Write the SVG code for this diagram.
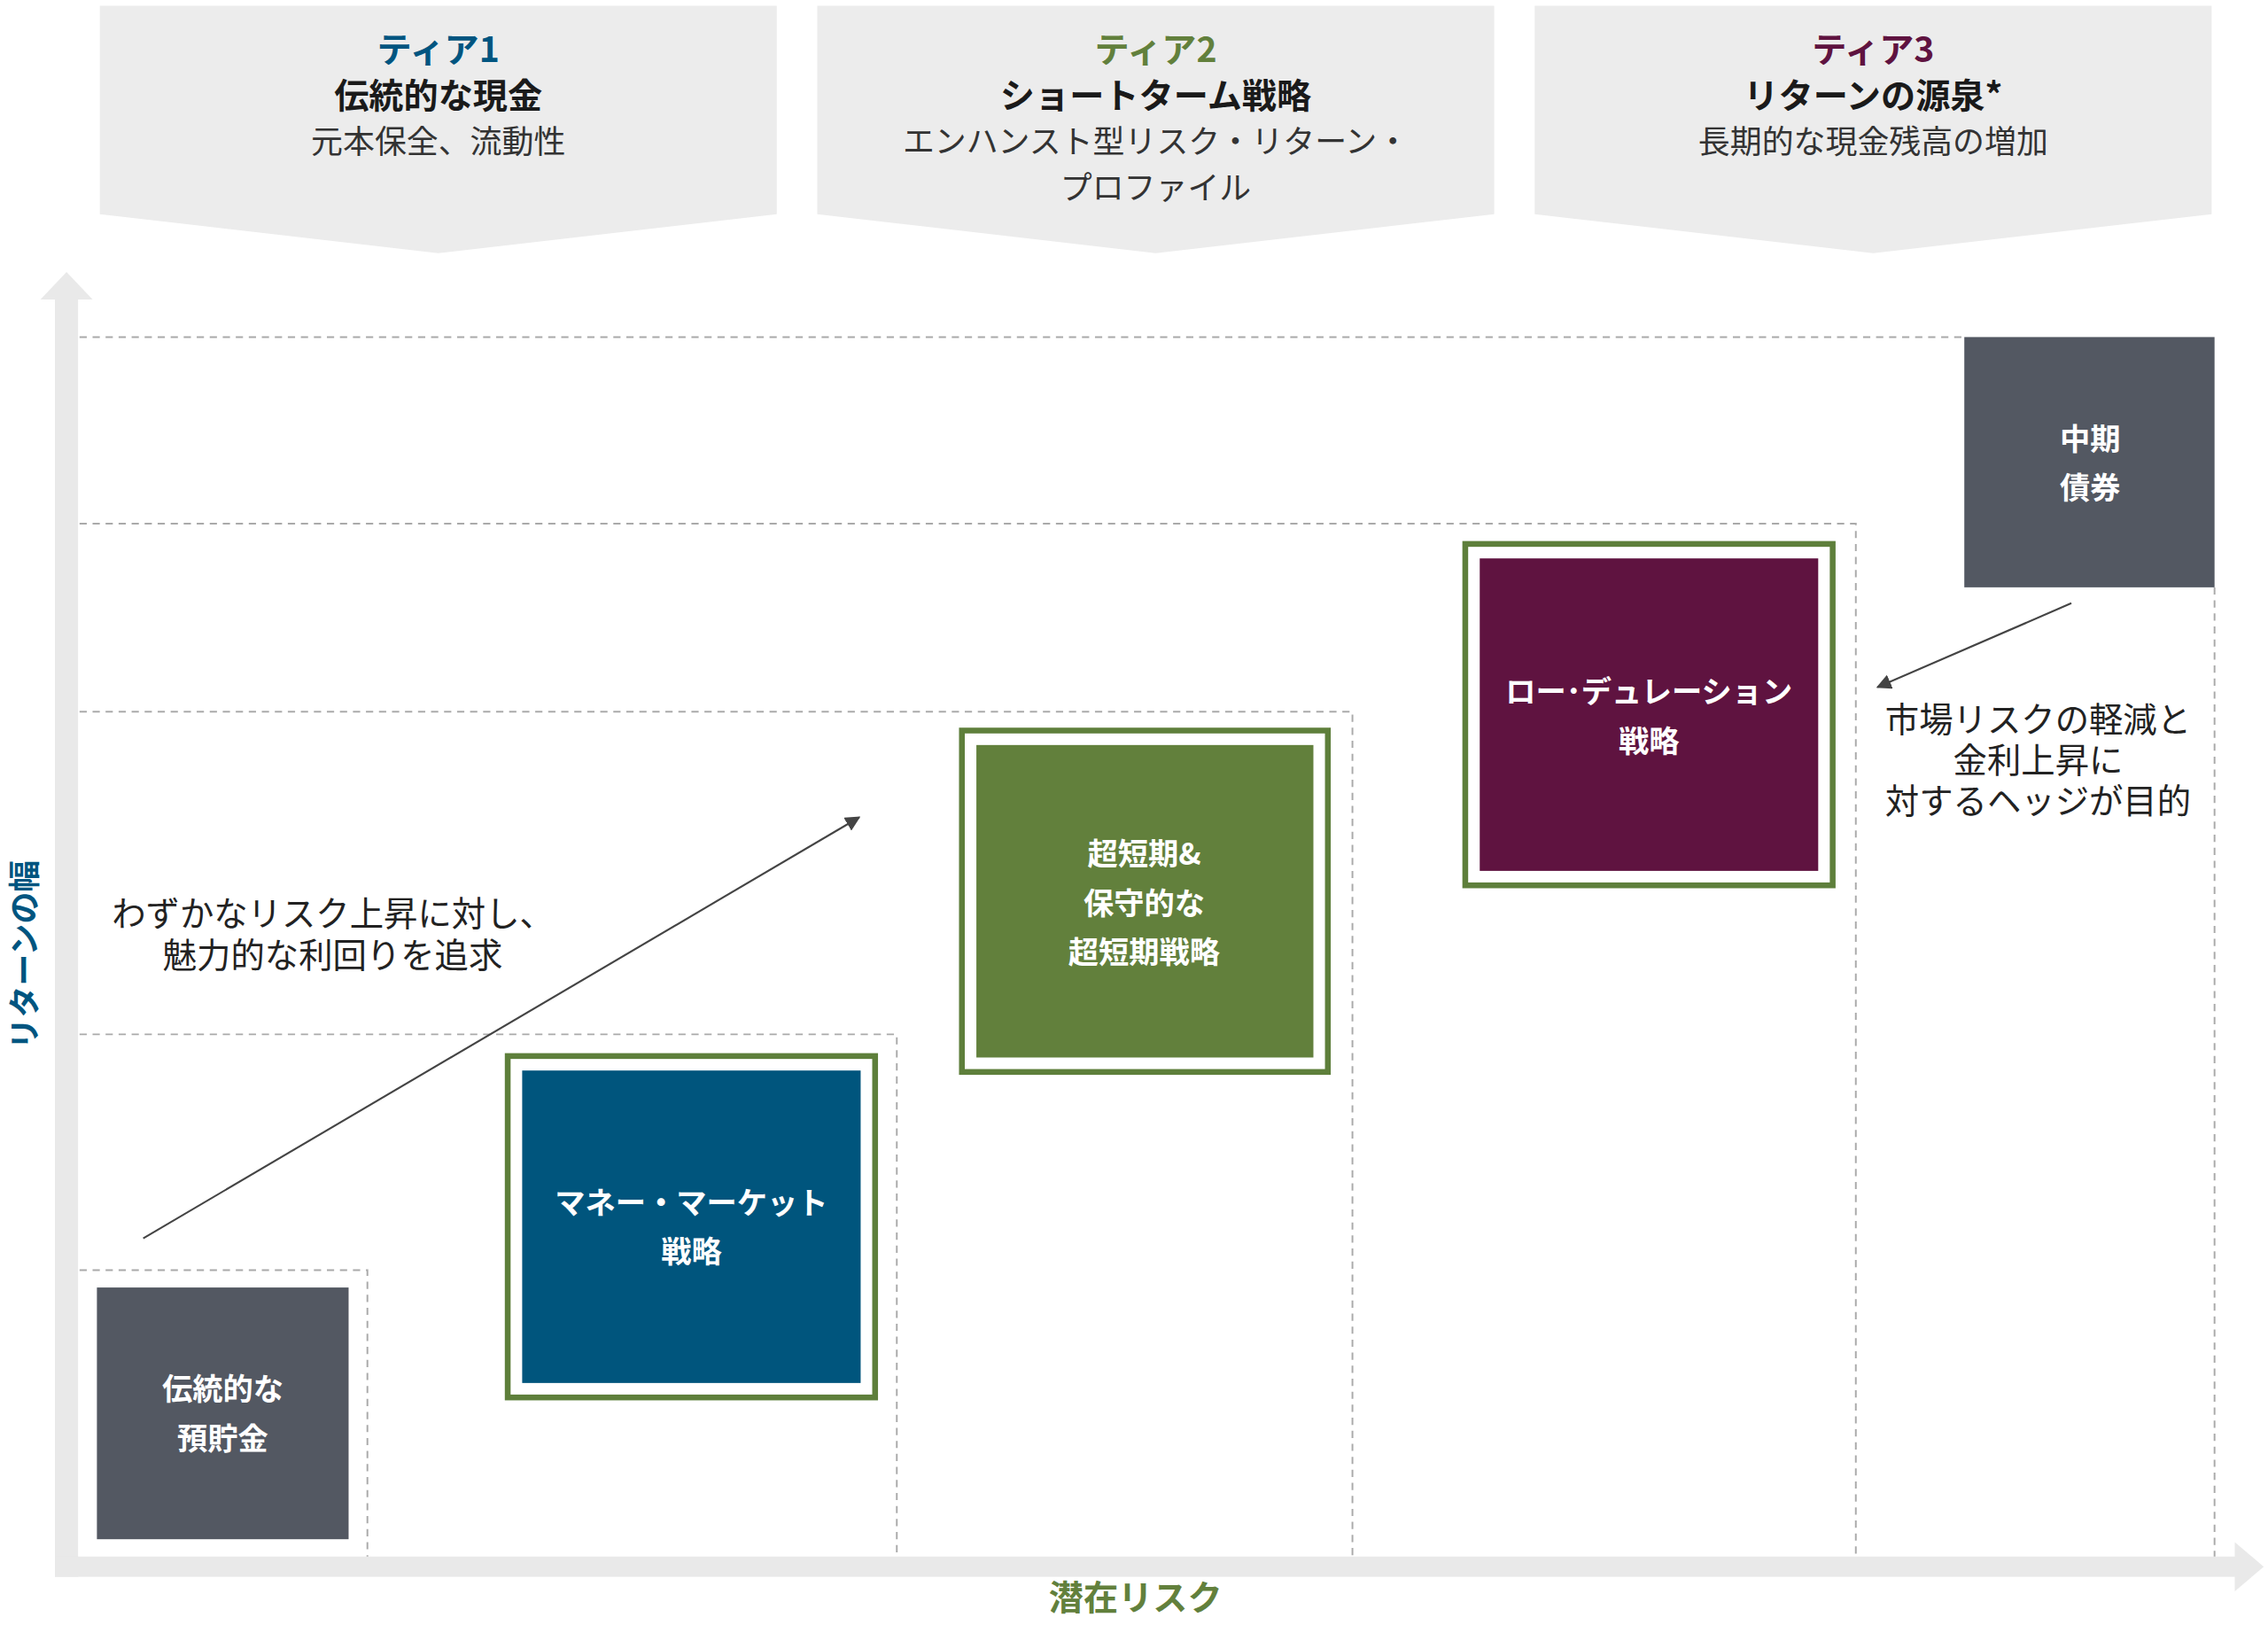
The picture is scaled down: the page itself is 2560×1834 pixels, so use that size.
<svg xmlns="http://www.w3.org/2000/svg" width="2560" height="1834" viewBox="0 0 2560 1834">
<style>
text{font-family:"Noto Sans CJK JP","Noto Sans",sans-serif;text-anchor:middle}
.ban{fill:#ececec}
.t{font-size:24px;font-weight:700}
.b{font-size:24px;font-weight:700;fill:#1a1a1a}
.r{font-size:22px;fill:#333}
.n{font-size:23.5px;fill:#222}
.w{font-size:21px;font-weight:700;fill:#fff}
.d{stroke:#aaa;stroke-width:1.2;stroke-dasharray:5 4;fill:none}
.ax{fill:#e9e9e9}
.fr{fill:#fff;stroke:#5e7f3b;stroke-width:4}
</style>
<defs><marker id="ah" viewBox="0 0 10 10" refX="9" refY="5" markerWidth="8" markerHeight="8" orient="auto"><path d="M0,0L10,5L0,10z" fill="#444"/></marker></defs>
<rect width="2560" height="1834" fill="#fff"/>
<g transform="scale(1.6327)">
<g id="tier1"><path class="ban" d="M69,4H537V148L303,175L69,148z"/>
<text x="303" y="43" class="t" fill="#005580">ティア1</text><text x="303" y="75" class="b">伝統的な現金</text><text x="303" y="106" class="r">元本保全、流動性</text></g>
<g id="tier2"><path class="ban" d="M565,4H1033V148L799,175L565,148z"/>
<text x="799" y="43" class="t" fill="#62803c">ティア2</text><text x="799" y="75" class="b">ショートターム戦略</text><text x="799" y="106" class="r">エンハンスト型リスク・リターン・</text><text x="799" y="138" class="r">プロファイル</text></g>
<g id="tier3"><path class="ban" d="M1061,4H1529V148L1295,175L1061,148z"/>
<text x="1295" y="43" class="t" fill="#5f1340">ティア3</text><text x="1295" y="75" class="b">リターンの源泉*</text><text x="1295" y="106" class="r">長期的な現金残高の増加</text></g>
<g id="axes">
<rect class="ax" x="38" y="204" width="16" height="886"/><path class="ax" d="M46,188L64,207H28z"/>
<rect class="ax" x="38" y="1076" width="1510" height="14"/><path class="ax" d="M1565,1083L1545,1066V1100z"/>
<text transform="translate(25,660) rotate(-90)" font-size="22" font-weight="700" fill="#005580">リターンの幅</text>
<text x="785" y="1113" font-size="24" font-weight="700" fill="#62803c">潜在リスク</text>
</g>
<g id="grid">
<path class="d" d="M55,233H1358M55,362H1283V1076M55,492H935V1076M55,715H620V1076M55,878H254V1076M1531,406V1076"/>
</g>
<g id="n1"><rect x="67" y="890" width="174" height="174" fill="#535862"/><text x="154" y="968" class="w">伝統的な</text><text x="154" y="1002" class="w">預貯金</text></g>
<g id="n2"><rect class="fr" x="351" y="730" width="254" height="236"/><rect x="361" y="740" width="234" height="216" fill="#00557d"/><text x="478" y="839" class="w">マネー・マーケット</text><text x="478" y="873" class="w">戦略</text></g>
<g id="n3"><rect class="fr" x="665" y="505" width="253" height="236"/><rect x="675" y="515" width="233" height="216" fill="#62803c"/><text x="791" y="598" class="w">超短期&amp;</text><text x="791" y="632" class="w">保守的な</text><text x="791" y="666" class="w">超短期戦略</text></g>
<g id="n4"><rect class="fr" x="1013" y="376" width="254" height="236"/><rect x="1023" y="386" width="234" height="216" fill="#5f1340"/><text x="1140" y="486" class="w">ロー･デュレーション</text><text x="1140" y="520" class="w">戦略</text></g>
<g id="n5"><rect x="1358" y="233" width="173" height="173" fill="#535862"/><text x="1445" y="311" class="w">中期</text><text x="1445" y="345" class="w">債券</text></g>
<g id="connectors" stroke="#444" stroke-width="1.3" fill="none">
<path d="M99,856L594,565" marker-end="url(#ah)"/>
<path d="M1432,417L1298,475" marker-end="url(#ah)"/>
</g>
<g id="notes">
<text x="230" y="640" class="n">わずかなリスク上昇に対し、</text><text x="230" y="669" class="n">魅力的な利回りを追求</text>
<text x="1409" y="506" class="n">市場リスクの軽減と</text><text x="1409" y="534" class="n">金利上昇に</text><text x="1409" y="562" class="n">対するヘッジが目的</text>
</g>
</g>
</svg>
